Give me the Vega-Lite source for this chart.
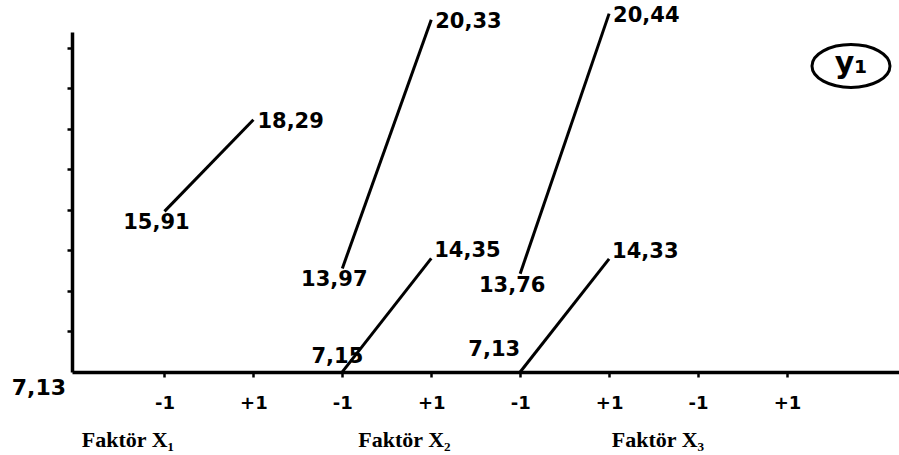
{
  "$schema": "https://vega.github.io/schema/vega-lite/v6.json",
  "width": 827,
  "height": 340,
  "autosize": {"type": "none"},
  "padding": {"left": 72, "top": 32, "right": 0, "bottom": 83},
  "background": "white",
  "config": {
    "view": {"stroke": null},
    "locale": {"number": {"decimal": ",", "thousands": ".", "grouping": [3], "currency": ["", ""]}},
    "axis": {"grid": false}
  },
  "datasets": {
    "effects": [
      {"factor": "X1", "series": "X1", "level": "-1", "pos": 1, "y": 15.91},
      {"factor": "X1", "series": "X1", "level": "+1", "pos": 2, "y": 18.29},
      {"factor": "X2", "series": "X2 upper", "level": "-1", "pos": 3, "y": 13.97},
      {"factor": "X2", "series": "X2 upper", "level": "+1", "pos": 4, "y": 20.33},
      {"factor": "X2", "series": "X2 lower", "level": "-1", "pos": 3, "y": 7.15},
      {"factor": "X2", "series": "X2 lower", "level": "+1", "pos": 4, "y": 14.35},
      {"factor": "X3", "series": "X3 upper", "level": "-1", "pos": 5, "y": 13.76},
      {"factor": "X3", "series": "X3 upper", "level": "+1", "pos": 6, "y": 20.44},
      {"factor": "X3", "series": "X3 lower", "level": "-1", "pos": 5, "y": 7.13},
      {"factor": "X3", "series": "X3 lower", "level": "+1", "pos": 6, "y": 14.33}
    ],
    "factors": [
      {"name": "Faktör X₁", "x": 0.07, "y": 0},
      {"name": "Faktör X₂", "x": 3.18, "y": 0},
      {"name": "Faktör X₃", "x": 6.03, "y": 0}
    ],
    "badge": [{"label": "y₁", "x": 8.72, "y": 7.556}],
    "frame": [{"x": 0, "y": 0}]
  },
  "layer": [
    {
      "data": {"name": "effects"},
      "encoding": {
        "x": {
          "field": "pos",
          "type": "quantitative",
          "scale": {"domain": [-0.04, 9.26], "nice": false, "zero": false},
          "title": null,
          "axis": {
            "values": [1, 2, 3, 4, 5, 6, 7, 8],
            "labelExpr": "datum.value % 2 == 1 ? '-1' : '+1'",
            "tickSize": 5,
            "tickWidth": 2.5,
            "tickColor": "black",
            "domainColor": "black",
            "domainWidth": 3.5,
            "labelFont": "DejaVu Sans",
            "labelFontWeight": "bold",
            "labelFontSize": 18,
            "labelColor": "black",
            "labelPadding": 17,
            "labelFlush": false,
            "title": null
          }
        },
        "y": {
          "field": "y",
          "type": "quantitative",
          "scale": {"type": "pow", "exponent": 3, "domain": [7.13, 20.1], "nice": false, "zero": false},
          "axis": null
        }
      },
      "layer": [
        {
          "mark": {"type": "line", "color": "black", "strokeWidth": 3},
          "encoding": {"detail": {"field": "series"}}
        },
        {
          "transform": [{"filter": "datum.level == '+1' && (datum.series == 'X1' || datum.series == 'X2 upper' || datum.series == 'X3 upper')"}],
          "mark": {"type": "text", "align": "left", "baseline": "middle", "dx": 4, "dy": 2, "font": "DejaVu Sans", "fontWeight": "bold", "fontSize": 21, "color": "black"},
          "encoding": {"text": {"field": "y", "type": "quantitative", "format": ".2f"}}
        },
        {
          "transform": [{"filter": "datum.level == '+1' && (datum.series == 'X2 lower' || datum.series == 'X3 lower')"}],
          "mark": {"type": "text", "align": "left", "baseline": "middle", "dx": 3, "dy": -7, "font": "DejaVu Sans", "fontWeight": "bold", "fontSize": 21, "color": "black"},
          "encoding": {"text": {"field": "y", "type": "quantitative", "format": ".2f"}}
        },
        {
          "transform": [{"filter": "datum.level == '-1' && (datum.series == 'X1' || datum.series == 'X2 upper' || datum.series == 'X3 upper')"}],
          "mark": {"type": "text", "align": "center", "baseline": "middle", "dx": -8, "dy": 12, "font": "DejaVu Sans", "fontWeight": "bold", "fontSize": 21, "color": "black"},
          "encoding": {"text": {"field": "y", "type": "quantitative", "format": ".2f"}}
        },
        {
          "transform": [{"filter": "datum.level == '-1' && datum.series == 'X2 lower'"}],
          "mark": {"type": "text", "align": "center", "baseline": "middle", "dx": -5, "dy": -15, "font": "DejaVu Sans", "fontWeight": "bold", "fontSize": 21, "color": "black"},
          "encoding": {"text": {"field": "y", "type": "quantitative", "format": ".2f"}}
        },
        {
          "transform": [{"filter": "datum.level == '-1' && datum.series == 'X3 lower'"}],
          "mark": {"type": "text", "align": "right", "baseline": "middle", "dx": 0, "dy": -22, "font": "DejaVu Sans", "fontWeight": "bold", "fontSize": 21, "color": "black"},
          "encoding": {"text": {"field": "y", "type": "quantitative", "format": ".2f"}}
        },
        {
          "transform": [
            {"joinaggregate": [{"op": "min", "field": "y", "as": "ymin"}]},
            {"filter": "datum.y == datum.ymin"}
          ],
          "mark": {"type": "text", "align": "right", "baseline": "middle", "dx": -6, "dy": 16, "font": "DejaVu Sans", "fontWeight": "bold", "fontSize": 22, "color": "black"},
          "encoding": {
            "x": {"datum": -0.04},
            "y": {"field": "ymin", "type": "quantitative"},
            "text": {"field": "ymin", "type": "quantitative", "format": ".2f"}
          }
        }
      ]
    },
    {
      "encoding": {
        "y": {
          "field": "y",
          "type": "quantitative",
          "scale": {"domain": [0, 8.395], "nice": false, "zero": false},
          "axis": {
            "orient": "left",
            "values": [1, 2, 3, 4, 5, 6, 7, 8],
            "labels": false,
            "tickSize": 5,
            "tickWidth": 2.5,
            "tickColor": "black",
            "domainColor": "black",
            "domainWidth": 3.5,
            "title": null
          }
        }
      },
      "layer": [
        {
          "data": {"name": "frame"},
          "mark": {"type": "rule", "strokeOpacity": 0},
          "encoding": {}
        },
        {
          "data": {"name": "badge"},
          "mark": {
            "type": "point",
            "shape": "M -1 0 A 1 0.55 0 1 1 1 0 A 1 0.55 0 1 1 -1 0 Z",
            "size": 6084,
            "filled": false,
            "stroke": "black",
            "strokeWidth": 3,
            "opacity": 1
          },
          "encoding": {"x": {"field": "x", "type": "quantitative", "title": null}}
        },
        {
          "data": {"name": "badge"},
          "mark": {"type": "text", "align": "center", "baseline": "alphabetic", "dy": 7.5, "font": "DejaVu Sans", "fontWeight": "bold", "fontSize": 30, "color": "black"},
          "encoding": {
            "x": {"field": "x", "type": "quantitative", "title": null},
            "text": {"field": "label"}
          }
        },
        {
          "data": {"name": "factors"},
          "mark": {"type": "text", "align": "left", "baseline": "middle", "dy": 68, "font": "Liberation Serif", "fontWeight": "bold", "fontSize": 22, "color": "black"},
          "encoding": {
            "x": {"field": "x", "type": "quantitative", "title": null},
            "text": {"field": "name"}
          }
        }
      ]
    }
  ],
  "resolve": {"scale": {"y": "independent"}, "axis": {"y": "independent"}}
}
